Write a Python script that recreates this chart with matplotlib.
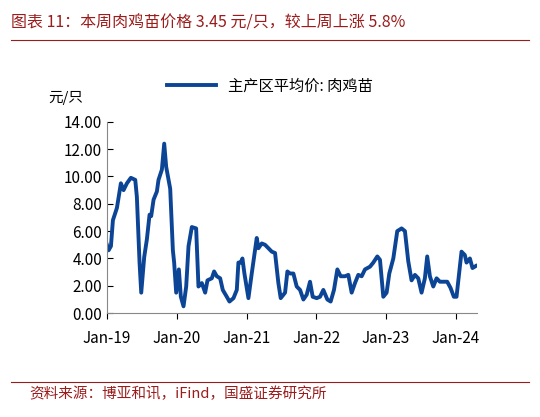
import matplotlib.pyplot as plt

plt.rcParams['font.family'] = ['Noto Sans CJK SC', 'DejaVu Sans']

# 月份偏移（自 2019 年 1 月起）与价格（元/只）
months = [0, 0.29, 0.69, 1.03, 1.72, 2.40, 2.86, 3.44, 4.12, 4.87, 5.15, 5.61, 5.90, 6.41,
          6.87, 7.33, 7.61, 8.02, 8.59, 8.87, 9.45, 9.85, 10.19, 10.88, 11.34, 11.56, 11.91,
          12.37, 12.71, 13.17, 13.63, 14.03, 14.60, 15.34, 15.74, 16.32, 16.89, 17.29, 18.03,
          18.43, 18.89, 19.47, 19.92, 20.61, 21.07, 21.76, 22.33, 22.61, 23.01, 23.30, 23.64,
          24.33, 24.90, 25.76, 26.05, 26.62, 27.19, 27.77, 28.34, 28.91, 29.48, 29.88, 30.63,
          31.03, 31.49, 32.06, 32.63, 33.21, 33.78, 34.35, 34.92, 35.38, 36.07, 36.64, 37.21,
          37.90, 38.47, 39.04, 39.62, 40.19, 40.93, 41.51, 42.08, 42.65, 43.22, 43.80, 44.37,
          45.23, 45.80, 46.49, 46.95, 47.52, 48.09, 48.55, 49.24, 49.92, 50.67, 51.24, 51.81,
          52.38, 52.96, 53.53, 54.10, 54.67, 55.07, 55.53, 56.11, 56.68, 57.25, 57.82, 58.51,
          59.08, 59.65, 60.11, 60.97, 61.54, 61.83, 62.41, 62.86, 63.43]
price = [5.0, 4.6, 4.9, 6.8, 7.7, 9.5, 9.0, 9.5, 9.9, 9.75, 8.5, 3.7, 1.5, 4.1,
         5.4, 7.2, 7.1, 8.3, 8.9, 9.75, 10.5, 12.4, 10.7, 9.1, 4.6, 3.7, 1.5,
         3.2, 1.2, 0.5, 1.95, 4.9, 6.3, 6.2, 1.95, 2.2, 1.5, 2.4, 2.55,
         3.05, 2.7, 2.55, 1.7, 1.2, 0.85, 1.1, 1.7, 3.7, 3.7, 4.0, 2.9,
         1.1, 2.9, 5.5, 4.75, 5.1, 5.0, 4.75, 4.5, 4.4, 2.2, 1.1, 1.5,
         3.05, 2.9, 2.9, 1.95, 1.7, 1.0, 1.35, 2.3, 1.2, 1.1, 1.2, 1.7,
         1.0, 0.85, 1.7, 3.2, 2.7, 2.7, 2.8, 1.5, 2.2, 2.8, 2.7, 3.2,
         3.4, 3.7, 4.15, 3.9, 1.2, 1.5, 2.9, 4.0, 6.0, 6.2, 6.0, 3.8,
         2.4, 2.8, 2.55, 1.5, 2.55, 4.15, 2.7, 1.95, 2.55, 2.3, 2.3, 2.3,
         1.85, 1.2, 1.2, 4.5, 4.25, 3.7, 4.0, 3.3, 3.45]
tick_pos = [0, 12, 24, 36, 48, 60]
tick_labels = ['Jan-19', 'Jan-20', 'Jan-21', 'Jan-22', 'Jan-23', 'Jan-24']

fig = plt.figure(figsize=(5.4, 4.17), dpi=100)
ax = fig.add_axes([0.198, 0.249, 0.685, 0.459])
line, = ax.plot(months, price, color='#0D4596', lw=2.8, label='主产区平均价: 肉鸡苗')

ax.set_xlim(0, 63.6)
ax.set_ylim(0, 14)
ax.set_yticks(range(0, 15, 2))
ax.set_yticklabels([f'{v:.2f}' for v in range(0, 15, 2)], fontsize=11)
ax.set_xticks(tick_pos)
ax.set_xticklabels(tick_labels, fontsize=11)
ax.tick_params(axis='x', direction='out', length=4, pad=8)
ax.tick_params(axis='y', direction='in', length=4)
for s in ['top', 'right']:
    ax.spines[s].set_visible(False)
for s in ['left', 'bottom']:
    ax.spines[s].set_color('#888888')

fig.legend(handles=[line], loc='center', bbox_to_anchor=(0.5, 0.793), frameon=False,
           fontsize=11, handlelength=3.2)
fig.text(0.09, 0.765, '元/只', fontsize=10.5, va='center')

fig.text(0.02, 0.945, '图表 11：本周肉鸡苗价格 3.45 元/只，较上周上涨 5.8%', color='#9B1C1C',
         fontsize=11.5, style='italic', va='center')
fig.add_artist(plt.Line2D([0.02, 0.98], [0.905, 0.905], color='#9B1C1C', lw=0.8))
fig.add_artist(plt.Line2D([0.02, 0.98], [0.085, 0.085], color='#9B1C1C', lw=0.8))
fig.text(0.055, 0.055, '资料来源：博亚和讯，iFind，国盛证券研究所', color='#9B1C1C',
         fontsize=10.5, style='italic', va='center')

fig.savefig('out.png')
